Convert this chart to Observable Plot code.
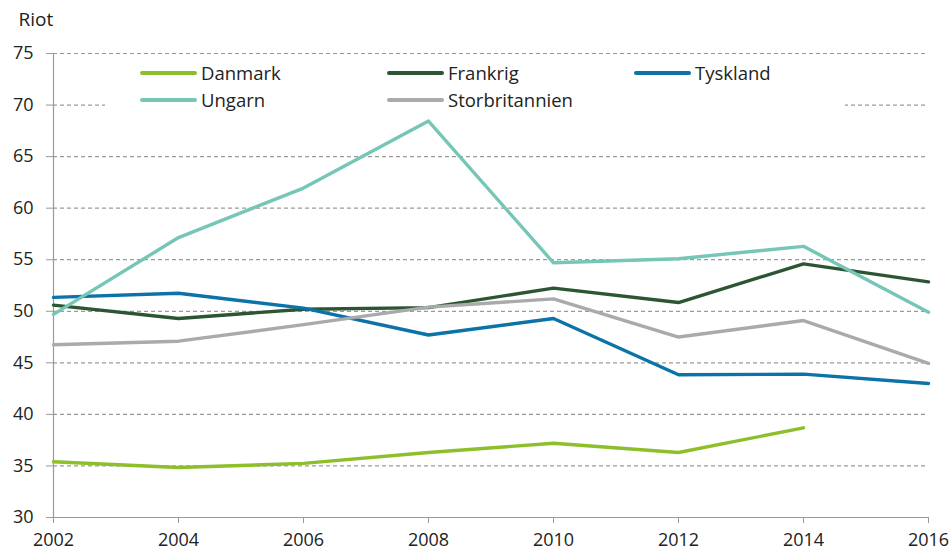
<!DOCTYPE html>
<html>
<head>
<meta charset="utf-8">
<script src="https://cdn.jsdelivr.net/npm/d3@7"></script>
<script src="https://cdn.jsdelivr.net/npm/@observablehq/plot@0.6"></script>
<style>
  html, body { margin: 0; padding: 0; background: #fff; }
  #wrap { position: relative; width: 951px; height: 553px; font-family: "Open Sans", sans-serif; }
  #legend { position: absolute; left: 105px; top: 58px; width: 740px; height: 54px; background: #fff; }
  .item { position: absolute; display: flex; align-items: center; font-size: 18.5px; line-height: 24px; color: #222; }
  .swatch { width: 57px; height: 4px; border-radius: 2px; margin-right: 4px; }
</style>
</head>
<body>
<div id="wrap"><div id="legend"></div></div>
<script>
const years = [2002, 2004, 2006, 2008, 2010, 2012, 2014, 2016];
const series = ["Danmark", "Frankrig", "Tyskland", "Ungarn", "Storbritannien"];
const colors = ["#8dbf2a", "#2c5633", "#0b73a7", "#76c6b7", "#aaaaaa"];
const danmark = [35.4, 34.85, 35.25, 36.3, 37.2, 36.3, 38.7, null];
const frankrig = [50.6, 49.3, 50.2, 50.35, 52.25, 50.85, 54.6, 52.85];
const tyskland = [51.35, 51.75, 50.3, 47.7, 49.3, 43.85, 43.9, 43.0];
const ungarn = [49.7, 57.15, 61.95, 68.45, 54.7, 55.1, 56.3, 49.9];
const storbritannien = [46.75, 47.1, 48.7, 50.4, 51.2, 47.5, 49.1, 44.95];
const yTicks = [30, 35, 40, 45, 50, 55, 60, 65, 70, 75];
const yLabel = "Riot";

const valueLists = [danmark, frankrig, tyskland, ungarn, storbritannien];
const rows = [];
series.forEach((s, i) => {
  years.forEach((yr, j) => {
    const v = valueLists[i][j];
    if (v != null) rows.push({series: s, year: yr, value: v});
  });
});

const chart = Plot.plot({
  width: 951,
  height: 553,
  marginLeft: 53,
  marginRight: 23,
  marginTop: 53,
  marginBottom: 36,
  style: {fontFamily: "Open Sans, sans-serif", fontSize: "18px", color: "#222", background: "#fff"},
  x: {domain: [2002, 2016], label: null},
  y: {domain: [30, 75], label: null},
  color: {domain: series, range: colors},
  marks: [
    Plot.ruleY(yTicks.filter(t => t > 30), {stroke: "#9a9a9a", strokeDasharray: "4,3", strokeWidth: 1.2}),
    Plot.axisY({ticks: yTicks, tickSize: 7, tickPadding: 13, stroke: "#9a9a9a", fill: "#222", fontSize: 18}),
    Plot.axisX({ticks: years, tickFormat: d => String(d), tickSize: 6, tickPadding: 10, stroke: "#9a9a9a", fill: "#222", fontSize: 18}),
    Plot.ruleX([2002], {stroke: "#9a9a9a", strokeWidth: 1.2}),
    Plot.ruleY([30], {stroke: "#9a9a9a", strokeWidth: 1.2}),
    Plot.line(rows, {x: "year", y: "value", z: "series", stroke: "series", strokeWidth: 3.4, strokeLinejoin: "round"}),
    Plot.text([yLabel], {frameAnchor: "top-left", dx: -35, dy: -28, fontSize: 19, fill: "#222", textAnchor: "start", lineAnchor: "bottom"})
  ]
});
const wrap = document.getElementById("wrap");
wrap.insertBefore(chart, wrap.firstChild);

// legend
const legend = document.getElementById("legend");
const colX = [35, 282, 529];
series.forEach((s, i) => {
  const el = document.createElement("div");
  el.className = "item";
  el.style.left = colX[i % 3] + "px";
  el.style.top = (i < 3 ? 3 : 30) + "px";
  el.innerHTML = `<div class="swatch" style="background:${colors[i]}"></div><span>${s}</span>`;
  legend.appendChild(el);
});
</script>
</body>
</html>
